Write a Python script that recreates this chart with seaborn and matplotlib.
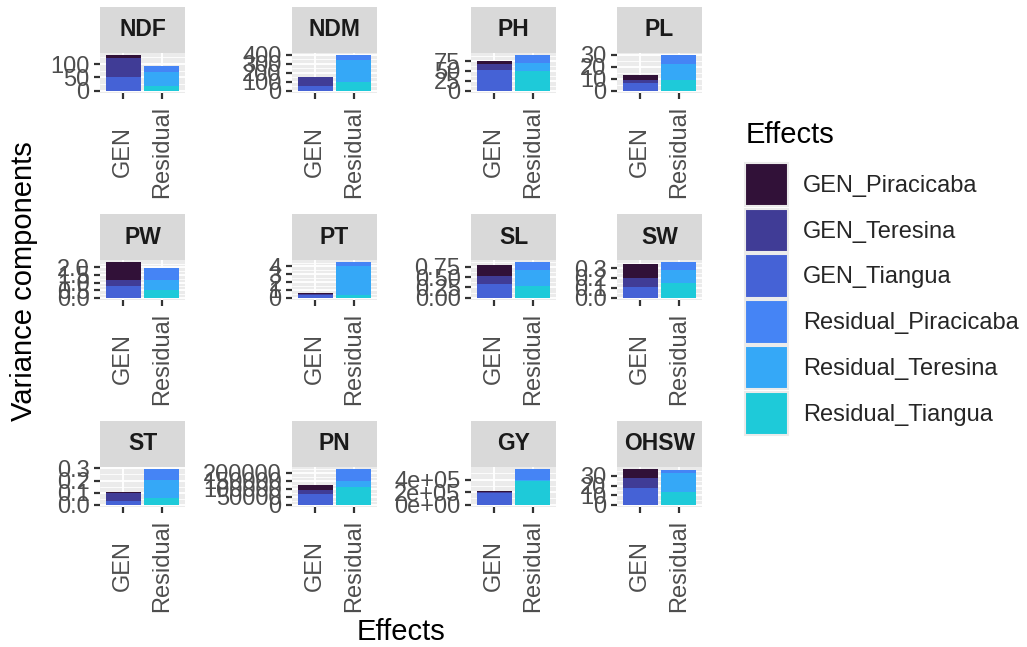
import numpy as np
import pandas as pd
import matplotlib
matplotlib.use('Agg')
import matplotlib.pyplot as plt
from matplotlib.patches import Patch
from matplotlib.ticker import FixedLocator
import seaborn as sns

# ---------------- data ----------------
traits = ['NDF', 'NDM', 'PH', 'PL', 'PW', 'PT', 'SL', 'SW', 'ST', 'PN', 'GY', 'OHSW']
effect_groups = ['GEN', 'Residual']
effect_levels = ['GEN_Piracicaba', 'GEN_Teresina', 'GEN_Tiangua',
                 'Residual_Piracicaba', 'Residual_Teresina', 'Residual_Tiangua']

gen_piracicaba = [13, 1, 8, 4.8, 1.18, 0.12, 0.26, 0.14, 0.001, 31000, 21000, 9.5]
gen_teresina   = [70, 98, 15, 2.5, 0.44, 0.18, 0.20, 0.09, 0.068, 25000, 22000, 10]
gen_tiangua    = [52, 51, 52, 6.0, 0.75, 0.30, 0.33, 0.11, 0.032, 66000, 181000, 17.9]
res_piracicaba = [25, 54, 21, 7.6, 0.80, 0.50, 0.20, 0.08, 0.091, 78700, 176000, 3]
res_teresina   = [50, 247, 20, 13.0, 0.64, 3.75, 0.39, 0.133, 0.152, 32400, 16000, 19.5]
res_tiangua    = [19, 98, 50, 9.2, 0.50, 0.35, 0.28, 0.15, 0.054, 113600, 379000, 13.5]

y_breaks = [[0, 50, 100], [0, 100, 200, 300, 400], [0, 25, 50, 75], [0, 10, 20, 30],
            [0, 0.5, 1.0, 1.5, 2.0], [0, 1, 2, 3, 4], [0, 0.25, 0.5, 0.75], [0, 0.1, 0.2, 0.3],
            [0, 0.1, 0.2, 0.3], [0, 50000, 100000, 150000, 200000], [0, 200000, 400000], [0, 10, 20, 30]]
y_labels = [['0', '50', '100'], ['0', '100', '200', '300', '400'], ['0', '25', '50', '75'],
            ['0', '10', '20', '30'], ['0.0', '0.5', '1.0', '1.5', '2.0'], ['0', '1', '2', '3', '4'],
            ['0.00', '0.25', '0.50', '0.75'], ['0.0', '0.1', '0.2', '0.3'], ['0.0', '0.1', '0.2', '0.3'],
            ['0', '50000', '100000', '150000', '200000'], ['0e+00', '2e+05', '4e+05'], ['0', '10', '20', '30']]

colors = ['#311138', '#403C96', '#4562D6', '#4584F5', '#35A8F7', '#1ECAD9']

series = [gen_piracicaba, gen_teresina, gen_tiangua, res_piracicaba, res_teresina, res_tiangua]
groups_of_level = ['GEN', 'GEN', 'GEN', 'Residual', 'Residual', 'Residual']
rows = []
for i, t in enumerate(traits):
    for lvl, grp, vals in zip(effect_levels, groups_of_level, series):
        rows.append(dict(trait=t, Effect=grp, Effects=lvl, value=vals[i]))
df = pd.DataFrame(rows)

# ---------------- style ----------------
sns.set_theme(style='white')
plt.rcParams['font.family'] = ['Liberation Sans', 'DejaVu Sans']

W, H = 1027, 647
fig = plt.figure(figsize=(W / 100, H / 100), dpi=100)


def frac(x0, y0, w, h):
    return [x0 / W, 1 - (y0 + h) / H, w / W, h / H]


col_left = [100, 292, 471, 617]
row_top = [53, 260, 467]
PWID, PHT, SHT = 85, 39.5, 46
TICK_FS = 17
TITLE_FS = 21

for k, t in enumerate(traits):
    r, c = divmod(k, 4)
    x0, y0 = col_left[c], row_top[r]
    ax = fig.add_axes(frac(x0, y0, PWID, PHT))
    sax = fig.add_axes(frac(x0, y0 - SHT, PWID, SHT))

    sub = df[df.trait == t]
    ax.set_facecolor('#EBEBEB')
    sns.histplot(data=sub, x='Effect', weights='value', hue='Effects', hue_order=effect_levels,
                 palette=colors, multiple='stack', discrete=True, shrink=0.9, alpha=1,
                 linewidth=0, legend=False, ax=ax)

    totals = sub.groupby('Effect')['value'].sum()
    m = totals.max()
    ax.set_ylim(-0.05 * m, 1.05 * m)
    ax.set_xlim(-0.6, 1.6)

    br = y_breaks[k]
    step = br[1] - br[0]
    minors = [b + step / 2 for b in br if b + step / 2 < 1.05 * m]
    ax.set_yticks(br)
    ax.set_yticklabels(y_labels[k], fontsize=TICK_FS, color='#4D4D4D')
    ax.yaxis.set_minor_locator(FixedLocator(minors))
    ax.set_xticks([0, 1])
    ax.set_xticklabels(effect_groups, rotation=90, va='center', ha='center',
                       fontsize=TICK_FS, color='#4D4D4D')
    ax.tick_params(axis='y', which='major', length=4.5, width=1.6, color='#333333', pad=3, left=True)
    ax.tick_params(axis='x', which='major', length=4.5, width=1.6, color='#333333', pad=38, bottom=True)
    ax.tick_params(which='minor', length=0)
    ax.set_axisbelow(True)
    ax.grid(which='major', color='white', linewidth=1.3)
    ax.grid(which='minor', axis='y', color='white', linewidth=0.6)
    for s in ax.spines.values():
        s.set_visible(False)
    ax.set_xlabel('')
    ax.set_ylabel('')

    sax.set_facecolor('#D9D9D9')
    sax.set_xticks([])
    sax.set_yticks([])
    for s in sax.spines.values():
        s.set_visible(False)
    sax.text(0.5, 0.5, t, ha='center', va='center', fontsize=16.5, fontweight='bold',
             color='#1A1A1A', transform=sax.transAxes)

fig.text(24 / W, 1 - 281 / H, 'Variance components', rotation=90, fontsize=TITLE_FS,
         ha='center', va='center', color='black')
fig.text(401 / W, 1 - 632 / H, 'Effects', fontsize=TITLE_FS, ha='center', va='center', color='black')

# legend
fig.text(746 / W, 1 - 135 / H, 'Effects', fontsize=TITLE_FS, ha='left', va='center', color='black')
handles = [Patch(facecolor=col, edgecolor='#EBEBEB', linewidth=1.5) for col in colors]
fig.legend(handles, effect_levels, loc='upper left',
           bbox_to_anchor=(745 / W, 1 - 163 / H), frameon=False, fontsize=TICK_FS,
           handlelength=1.82, handleheight=2.45, handletextpad=0.65, labelspacing=0.1,
           borderpad=0, borderaxespad=0)

fig.savefig('out.png', dpi=100)
